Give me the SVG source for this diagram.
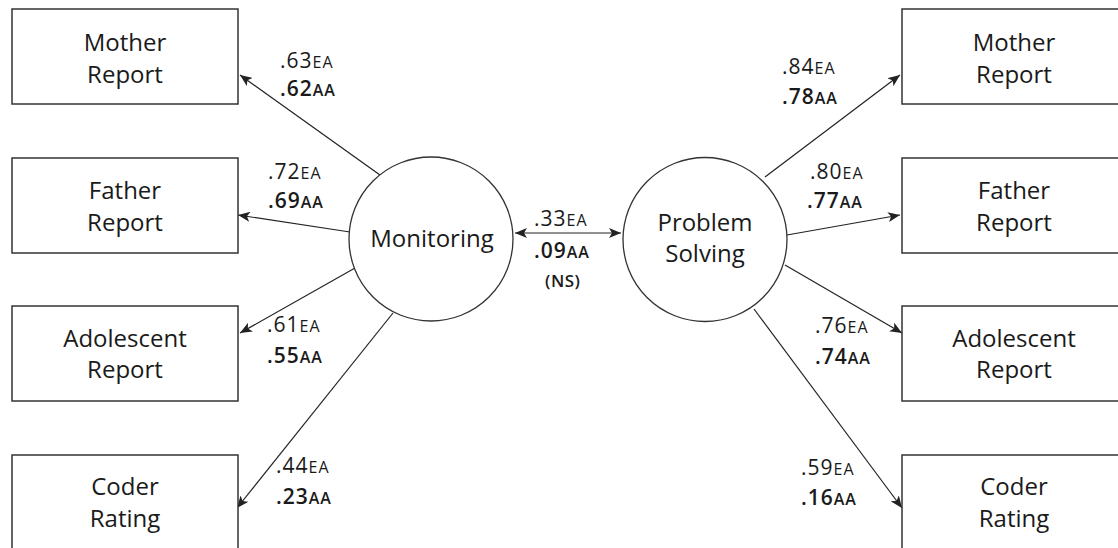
<svg xmlns="http://www.w3.org/2000/svg" width="1118" height="548" viewBox="0 0 1118 548">
<defs>
<style>
.box{fill:#fff;stroke:#333;stroke-width:1.5}
.lat{fill:#fff;stroke:#333;stroke-width:1.3}
.t{font-family:"Open Sans","Liberation Sans",sans-serif;font-size:24px;fill:#1a1a1a;text-anchor:middle}
.n{font-family:"Open Sans","Liberation Sans",sans-serif;font-size:21px;fill:#1a1a1a;letter-spacing:1px}
.b{font-weight:600}
.s{font-size:16px}
.ns{font-size:17px;letter-spacing:0.5px}
.c{stroke:#222;stroke-width:1.2;fill:none;marker-end:url(#ah)}
</style>
<marker id="ah" viewBox="0 0 12 10" refX="12" refY="5" markerWidth="12" markerHeight="10" markerUnits="userSpaceOnUse" orient="auto-start-reverse">
<path d="M0,0 L12,5 L0,10 L3,5 z" fill="#222"/>
</marker>
</defs>
<g id="connectors">
<line class="c" x1="380" y1="175" x2="240" y2="75"/>
<line class="c" x1="350" y1="232" x2="238" y2="215"/>
<line class="c" x1="355" y1="268" x2="240" y2="333"/>
<line class="c" x1="393" y1="313" x2="237" y2="508"/>
<line class="c" x1="765" y1="177" x2="900" y2="75"/>
<line class="c" x1="787" y1="235" x2="900" y2="215"/>
<line class="c" x1="785" y1="265" x2="902" y2="333"/>
<line class="c" x1="754" y1="309" x2="902" y2="508"/>
<line class="c" x1="515" y1="233" x2="621" y2="233" marker-start="url(#ah)"/>
</g>
<g id="monitoring"><circle class="lat" cx="431" cy="239" r="82"/><text class="t" x="432" y="247">Monitoring</text></g>
<g id="problem-solving"><circle class="lat" cx="705" cy="239.5" r="82"/><text class="t" x="705" y="231">Problem</text><text class="t" x="705" y="262">Solving</text></g>
<g id="l-mother"><rect class="box" x="12" y="9" width="226" height="95"/><text class="t" x="125" y="51">Mother</text><text class="t" x="125" y="83">Report</text></g>
<g id="l-father"><rect class="box" x="12" y="158" width="226" height="95"/><text class="t" x="125" y="199">Father</text><text class="t" x="125" y="231">Report</text></g>
<g id="l-adolescent"><rect class="box" x="12" y="306" width="226" height="95"/><text class="t" x="125" y="347">Adolescent</text><text class="t" x="125" y="378">Report</text></g>
<g id="l-coder"><rect class="box" x="12" y="455" width="226" height="95"/><text class="t" x="125" y="495">Coder</text><text class="t" x="125" y="527">Rating</text></g>
<g id="r-mother"><rect class="box" x="902" y="9" width="226" height="95"/><text class="t" x="1014" y="51">Mother</text><text class="t" x="1014" y="83">Report</text></g>
<g id="r-father"><rect class="box" x="902" y="158" width="226" height="95"/><text class="t" x="1014" y="199">Father</text><text class="t" x="1014" y="231">Report</text></g>
<g id="r-adolescent"><rect class="box" x="902" y="306" width="226" height="95"/><text class="t" x="1014" y="347">Adolescent</text><text class="t" x="1014" y="378">Report</text></g>
<g id="r-coder"><rect class="box" x="902" y="455" width="226" height="95"/><text class="t" x="1014" y="495">Coder</text><text class="t" x="1014" y="527">Rating</text></g>
<g id="labels">
<text class="n" x="280" y="68">.63<tspan class="s">EA</tspan></text>
<text class="n b" x="280" y="96">.62<tspan class="s">AA</tspan></text>
<text class="n" x="268" y="179">.72<tspan class="s">EA</tspan></text>
<text class="n b" x="268" y="208">.69<tspan class="s">AA</tspan></text>
<text class="n" x="267" y="332">.61<tspan class="s">EA</tspan></text>
<text class="n b" x="267" y="363">.55<tspan class="s">AA</tspan></text>
<text class="n" x="276" y="473">.44<tspan class="s">EA</tspan></text>
<text class="n b" x="276" y="504">.23<tspan class="s">AA</tspan></text>
<text class="n" x="534" y="226">.33<tspan class="s">EA</tspan></text>
<text class="n b" x="534" y="258">.09<tspan class="s">AA</tspan></text>
<text class="n b ns" x="545" y="287">(NS)</text>
<text class="n" x="782" y="74">.84<tspan class="s">EA</tspan></text>
<text class="n b" x="782" y="104">.78<tspan class="s">AA</tspan></text>
<text class="n" x="810" y="179">.80<tspan class="s">EA</tspan></text>
<text class="n b" x="807" y="208">.77<tspan class="s">AA</tspan></text>
<text class="n" x="815" y="333">.76<tspan class="s">EA</tspan></text>
<text class="n b" x="815" y="364">.74<tspan class="s">AA</tspan></text>
<text class="n" x="801" y="475">.59<tspan class="s">EA</tspan></text>
<text class="n b" x="801" y="505">.16<tspan class="s">AA</tspan></text>
</g>
</svg>
